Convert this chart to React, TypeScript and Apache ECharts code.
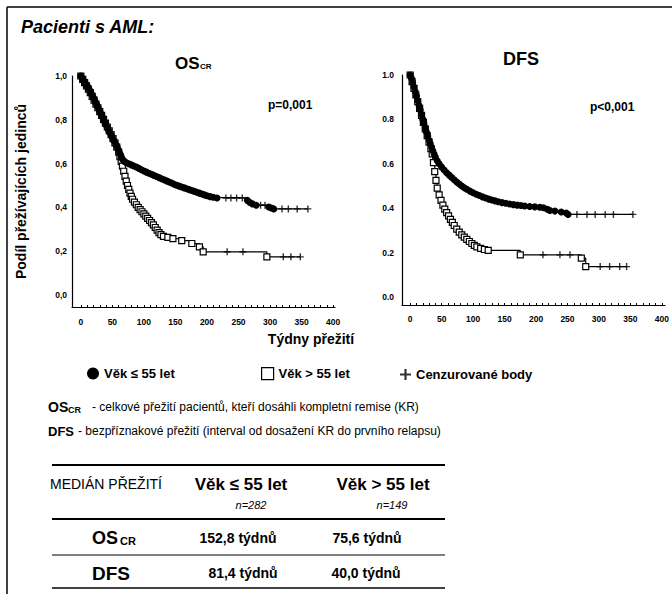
import React, { useEffect, useRef } from 'react';
import * as echarts from 'echarts';

type P = [number, number];

const FONT = '"Liberation Sans", Arial, Helvetica, sans-serif';

const NAME_YOUNG = 'Věk ≤ 55 let';
const NAME_OLD = 'Věk > 55 let';
const NAME_CENS = 'Cenzurované body';

const X_TICK_LABELS = [0, 50, 100, 150, 200, 250, 300, 350, 400];
const X_MINOR_TICKS = [0, 10, 20, 30, 40, 50, 60, 70, 80, 90, 100, 110, 120, 130, 140, 150, 160, 170, 180, 190, 200, 210, 220, 230, 240, 250, 260, 270, 280, 290, 300, 310, 320, 330, 340, 350, 360, 370, 380, 390, 400];
const Y_TICK_LABELS = [0, 0.2, 0.4, 0.6, 0.8, 1.0];

// OS_CR, age <= 55 (events) and censored points
const osYoung: P[] = [
  [0, 1.0], [2, 0.99], [4, 0.98], [6, 0.972], [8, 0.963], [10, 0.955], [12, 0.945], [14, 0.935], [16, 0.924], [18, 0.912],
  [20, 0.9], [22, 0.888], [24, 0.876], [26, 0.864], [28, 0.851], [30, 0.838], [32, 0.826], [34, 0.813], [36, 0.8], [38, 0.788],
  [40, 0.776], [42, 0.764], [44, 0.752], [46, 0.741], [48, 0.73], [50, 0.719], [52, 0.708], [54, 0.697], [56, 0.685], [58, 0.672],
  [60, 0.66], [62, 0.646], [64, 0.632], [66, 0.62], [69, 0.61], [72, 0.604], [76, 0.599], [80, 0.594], [84, 0.589], [88, 0.584],
  [92, 0.578], [96, 0.572], [100, 0.566], [104, 0.561], [108, 0.556], [112, 0.551], [116, 0.546], [120, 0.541], [124, 0.536],
  [128, 0.531], [132, 0.526], [136, 0.521], [140, 0.516], [144, 0.511], [148, 0.506], [152, 0.501], [156, 0.497], [160, 0.493],
  [164, 0.489], [168, 0.485], [172, 0.481], [176, 0.477], [180, 0.473], [184, 0.469], [188, 0.465], [192, 0.461], [196, 0.457],
  [200, 0.453], [205, 0.449], [210, 0.446], [216, 0.443], [264, 0.432], [268, 0.422], [272, 0.416], [278, 0.41], [298, 0.402],
  [302, 0.397], [306, 0.393],
];
const osYoungCens: P[] = [
  [230, 0.443], [238, 0.443], [247, 0.443], [256, 0.443], [285, 0.41], [292, 0.41], [319, 0.393], [329, 0.393], [343, 0.393], [360, 0.393],
];

// OS_CR, age > 55
const osOld: P[] = [
  [0, 1.0], [3, 0.985], [6, 0.97], [9, 0.955], [12, 0.94], [15, 0.924], [18, 0.907], [21, 0.89], [24, 0.872], [27, 0.855],
  [30, 0.837], [33, 0.82], [36, 0.802], [39, 0.785], [42, 0.767], [45, 0.75], [48, 0.732], [51, 0.714], [54, 0.695], [57, 0.675],
  [60, 0.652], [62, 0.632], [64, 0.61], [66, 0.588], [68, 0.565], [70, 0.542], [72, 0.52], [74, 0.5], [76, 0.482], [78, 0.465],
  [80, 0.45], [82, 0.437], [85, 0.424], [88, 0.412], [91, 0.4], [94, 0.39], [97, 0.38], [100, 0.37], [103, 0.36], [106, 0.35],
  [109, 0.34], [112, 0.33], [115, 0.32], [118, 0.308], [121, 0.296], [124, 0.285], [127, 0.276], [131, 0.268], [138, 0.263],
  [146, 0.257], [160, 0.248], [176, 0.235], [188, 0.22], [194, 0.197], [295, 0.174],
];
const osOldCens: P[] = [[232, 0.197], [257, 0.197], [321, 0.174], [333, 0.174], [348, 0.174]];

// DFS, age <= 55
const dfsYoung: P[] = [
  [0, 1.0], [2, 0.985], [4, 0.966], [6, 0.946], [8, 0.926], [10, 0.905], [12, 0.884], [14, 0.863], [16, 0.842], [18, 0.821],
  [20, 0.8], [22, 0.78], [24, 0.76], [26, 0.742], [28, 0.724], [30, 0.706], [32, 0.69], [34, 0.674], [36, 0.659], [38, 0.644],
  [40, 0.63], [43, 0.614], [46, 0.6], [50, 0.585], [54, 0.572], [58, 0.56], [62, 0.549], [66, 0.538], [70, 0.528], [74, 0.518],
  [78, 0.509], [82, 0.5], [86, 0.492], [90, 0.485], [95, 0.477], [100, 0.47], [105, 0.463], [110, 0.457], [115, 0.451],
  [120, 0.446], [125, 0.441], [130, 0.437], [135, 0.433], [140, 0.429], [146, 0.425], [152, 0.422], [158, 0.419], [164, 0.416],
  [170, 0.414], [176, 0.412], [182, 0.41], [190, 0.408], [198, 0.406], [206, 0.404], [212, 0.402], [218, 0.395], [222, 0.39],
  [230, 0.387], [240, 0.383], [248, 0.378], [251, 0.372],
];
const dfsYoungCens: P[] = [[265, 0.372], [281, 0.372], [294, 0.372], [310, 0.372], [323, 0.372], [354, 0.372]];

// DFS, age > 55
const dfsOld: P[] = [
  [0, 1.0], [3, 0.97], [6, 0.94], [9, 0.91], [12, 0.88], [15, 0.85], [18, 0.818], [21, 0.787], [24, 0.757], [27, 0.727],
  [30, 0.698], [33, 0.668], [35, 0.645], [37, 0.605], [39, 0.565], [41, 0.525], [43, 0.49], [46, 0.46], [49, 0.435], [52, 0.414],
  [55, 0.396], [58, 0.38], [61, 0.365], [64, 0.35], [67, 0.336], [70, 0.322], [74, 0.306], [78, 0.292], [82, 0.28], [86, 0.27],
  [90, 0.26], [94, 0.25], [98, 0.241], [102, 0.233], [106, 0.226], [112, 0.219], [118, 0.214], [124, 0.21], [175, 0.19],
  [272, 0.175], [279, 0.137],
];
const dfsOldCens: P[] = [[211, 0.19], [238, 0.19], [254, 0.19], [302, 0.137], [317, 0.137], [333, 0.137], [344, 0.137]];

// Table texts
const TABLE_HEAD = ['MEDIÁN PŘEŽITÍ', NAME_YOUNG, NAME_OLD];
const TABLE_N = ['n=282', 'n=149'];
const TABLE_OS = ['152,8 týdnů', '75,6 týdnů'];
const TABLE_DFS = ['81,4 týdnů', '40,0 týdnů'];

const PLUS = 'path://M4,0h2v4h4v2h-4v4h-2v-4h-4v-2h4z';

function kmLine(name: string, events: P[], cens: P[], idx: number, young: boolean) {
  const last = cens[cens.length - 1];
  const data: any[] = events.map((p) => p);
  data.push({ value: [last[0], events[events.length - 1][1]], symbol: 'none' });
  return {
    type: 'line',
    name,
    xAxisIndex: idx,
    yAxisIndex: idx,
    step: 'end',
    data,
    symbol: young ? 'circle' : 'rect',
    symbolSize: young ? 7 : 6,
    showAllSymbol: true,
    lineStyle: { color: '#000', width: 1.2 },
    itemStyle: young ? { color: '#000' } : { color: '#fff', borderColor: '#000', borderWidth: 1.2 },
    z: young ? 3 : 2,
    silent: true,
  };
}

function censSeries(cens: P[], idx: number) {
  return {
    type: 'scatter',
    name: NAME_CENS,
    xAxisIndex: idx,
    yAxisIndex: idx,
    data: cens,
    symbol: PLUS,
    symbolSize: 7,
    itemStyle: { color: '#000' },
    z: 4,
    silent: true,
  };
}

const txt = (text: string, x: number, y: number, font: string, align = 'left', extra: any = {}) => ({
  type: 'text',
  x,
  y,
  silent: true,
  ...extra,
  style: {
    text,
    font,
    fill: '#000',
    textAlign: align,
    textVerticalAlign: 'middle',
    align,
    verticalAlign: 'middle',
  },
});

const hline = (x1: number, x2: number, y: number, w: number) => ({
  type: 'line',
  silent: true,
  shape: { x1, y1: y, x2, y2: y },
  style: { stroke: '#000', lineWidth: w },
});

const B = (s: number) => `bold ${s}px ${FONT}`;
const R = (s: number) => `${s}px ${FONT}`;

export default function App() {
  const ref = useRef<HTMLDivElement>(null);
  useEffect(() => {
    if (!ref.current) return;
    const chart = echarts.init(ref.current, undefined, { renderer: 'svg' });
    const axisLine = { show: true, onZero: false, lineStyle: { color: '#000', width: 1.2 } };
    const lblStyle = { fontSize: 8.5, fontWeight: 'bold', color: '#000', fontFamily: FONT };
    const legendText = { fontSize: 13, fontWeight: 'bold', color: '#000', fontFamily: FONT };
    const option: any = {
      animation: false,
      backgroundColor: '#fff',
      textStyle: { fontFamily: FONT },
      grid: [
        { left: 72, top: 76, width: 263, height: 231, containLabel: false, outerBoundsMode: 'none' },
        { left: 402, top: 75, width: 263, height: 230, containLabel: false, outerBoundsMode: 'none' },
      ],
      xAxis: [
        {
          gridIndex: 0, type: 'value', min: -14, max: 403, axisLine,
          axisTick: { show: true, inside: true, length: 2, customValues: X_MINOR_TICKS, lineStyle: { color: '#000' } },
          axisLabel: { customValues: X_TICK_LABELS, margin: 10, ...lblStyle },
          splitLine: { show: false },
        },
        {
          gridIndex: 1, type: 'value', min: -13, max: 405, axisLine,
          axisTick: { show: true, inside: true, length: 2, customValues: X_MINOR_TICKS, lineStyle: { color: '#000' } },
          axisLabel: { customValues: X_TICK_LABELS, margin: 9, ...lblStyle },
          splitLine: { show: false },
        },
      ],
      yAxis: [
        {
          gridIndex: 0, type: 'value', min: -0.055, max: 1, axisLine,
          axisTick: { show: false },
          axisLabel: { customValues: Y_TICK_LABELS, margin: 5, formatter: (v: number) => v.toFixed(1).replace('.', ','), ...lblStyle },
          splitLine: { show: false },
          name: 'Podíl přežívajících jedinců', nameLocation: 'middle', nameGap: 44, nameRotate: 90,
          nameTextStyle: { fontSize: 14, fontWeight: 'bold', color: '#000', fontFamily: FONT },
        },
        {
          gridIndex: 1, type: 'value', min: -0.036, max: 1, axisLine,
          axisTick: { show: false },
          axisLabel: { customValues: Y_TICK_LABELS, margin: 8, formatter: (v: number) => v.toFixed(1), ...lblStyle },
          splitLine: { show: false },
        },
      ],
      legend: [
        {
          left: 87, top: 367, padding: 0, itemWidth: 12, itemHeight: 12, selectedMode: false,
          lineStyle: { width: 0, opacity: 0 },
          data: [{ name: NAME_YOUNG, icon: 'circle' }], textStyle: legendText,
        },
        {
          left: 261, top: 367, padding: 0, itemWidth: 12, itemHeight: 12, selectedMode: false,
          lineStyle: { width: 0, opacity: 0 },
          data: [{ name: NAME_OLD, icon: 'rect', itemStyle: { color: '#fff', borderColor: '#000', borderWidth: 1.2 } }],
          textStyle: legendText,
        },
        {
          left: 400, top: 368, padding: 0, itemWidth: 11, itemHeight: 11, selectedMode: false,
          data: [{ name: NAME_CENS, icon: PLUS }], textStyle: legendText,
        },
      ],
      series: [
        kmLine(NAME_OLD, osOld, osOldCens, 0, false),
        kmLine(NAME_YOUNG, osYoung, osYoungCens, 0, true),
        censSeries(osOldCens, 0),
        censSeries(osYoungCens, 0),
        kmLine(NAME_OLD, dfsOld, dfsOldCens, 1, false),
        kmLine(NAME_YOUNG, dfsYoung, dfsYoungCens, 1, true),
        censSeries(dfsOldCens, 1),
        censSeries(dfsYoungCens, 1),
      ],
      graphic: [
        { type: 'line', silent: true, shape: { x1: 7, y1: 7, x2: 672, y2: 7 }, style: { stroke: '#000', lineWidth: 1.5 } },
        { type: 'line', silent: true, shape: { x1: 7, y1: 7, x2: 7, y2: 594 }, style: { stroke: '#000', lineWidth: 1.5 } },
        txt('Pacienti s AML:', 21, 27, `italic bold 18px ${FONT}`),
        txt('OS', 175, 63, B(17)),
        txt('CR', 200, 66, B(8)),
        txt('DFS', 521, 59, B(18), 'center'),
        txt('p=0,001', 268, 105, B(12)),
        txt('p<0,001', 590, 107, B(12)),
        txt('Týdny přežití', 311, 339, B(14), 'center'),
        txt('OS', 48, 407, B(14)),
        txt('CR', 68, 410, B(9)),
        txt('- celkové přežití pacientů, kteří dosáhli kompletní remise (KR)', 92, 407, R(12)),
        txt('DFS', 48, 431, B(13)),
        txt('- bezpříznakové přežití (interval od dosažení KR do prvního relapsu)', 78, 431, R(12)),
        hline(52, 445, 465, 2),
        txt(TABLE_HEAD[0], 50, 484, R(14)),
        txt(TABLE_HEAD[1], 241, 484, B(17), 'center'),
        txt(TABLE_HEAD[2], 383, 484, B(17), 'center'),
        txt(TABLE_N[0], 251, 505, `italic 11px ${FONT}`, 'center'),
        txt(TABLE_N[1], 392, 505, `italic 11px ${FONT}`, 'center'),
        hline(52, 445, 519, 2),
        txt('OS', 92, 538, B(18)),
        txt('CR', 120, 541, B(11)),
        txt(TABLE_OS[0], 238, 538, B(14), 'center'),
        txt(TABLE_OS[1], 367, 538, B(14), 'center'),
        hline(52, 445, 555, 1),
        txt('DFS', 92, 573, B(19)),
        txt(TABLE_DFS[0], 243, 573, B(14), 'center'),
        txt(TABLE_DFS[1], 366, 573, B(14), 'center'),
        hline(52, 445, 588, 1.5),
      ],
    };
    chart.setOption(option);
    return () => chart.dispose();
  }, []);
  return (
    <div
      ref={ref}
      style={{ position: 'absolute', left: 0, top: 0, width: 672, height: 594, background: '#fff' }}
    />
  );
}
